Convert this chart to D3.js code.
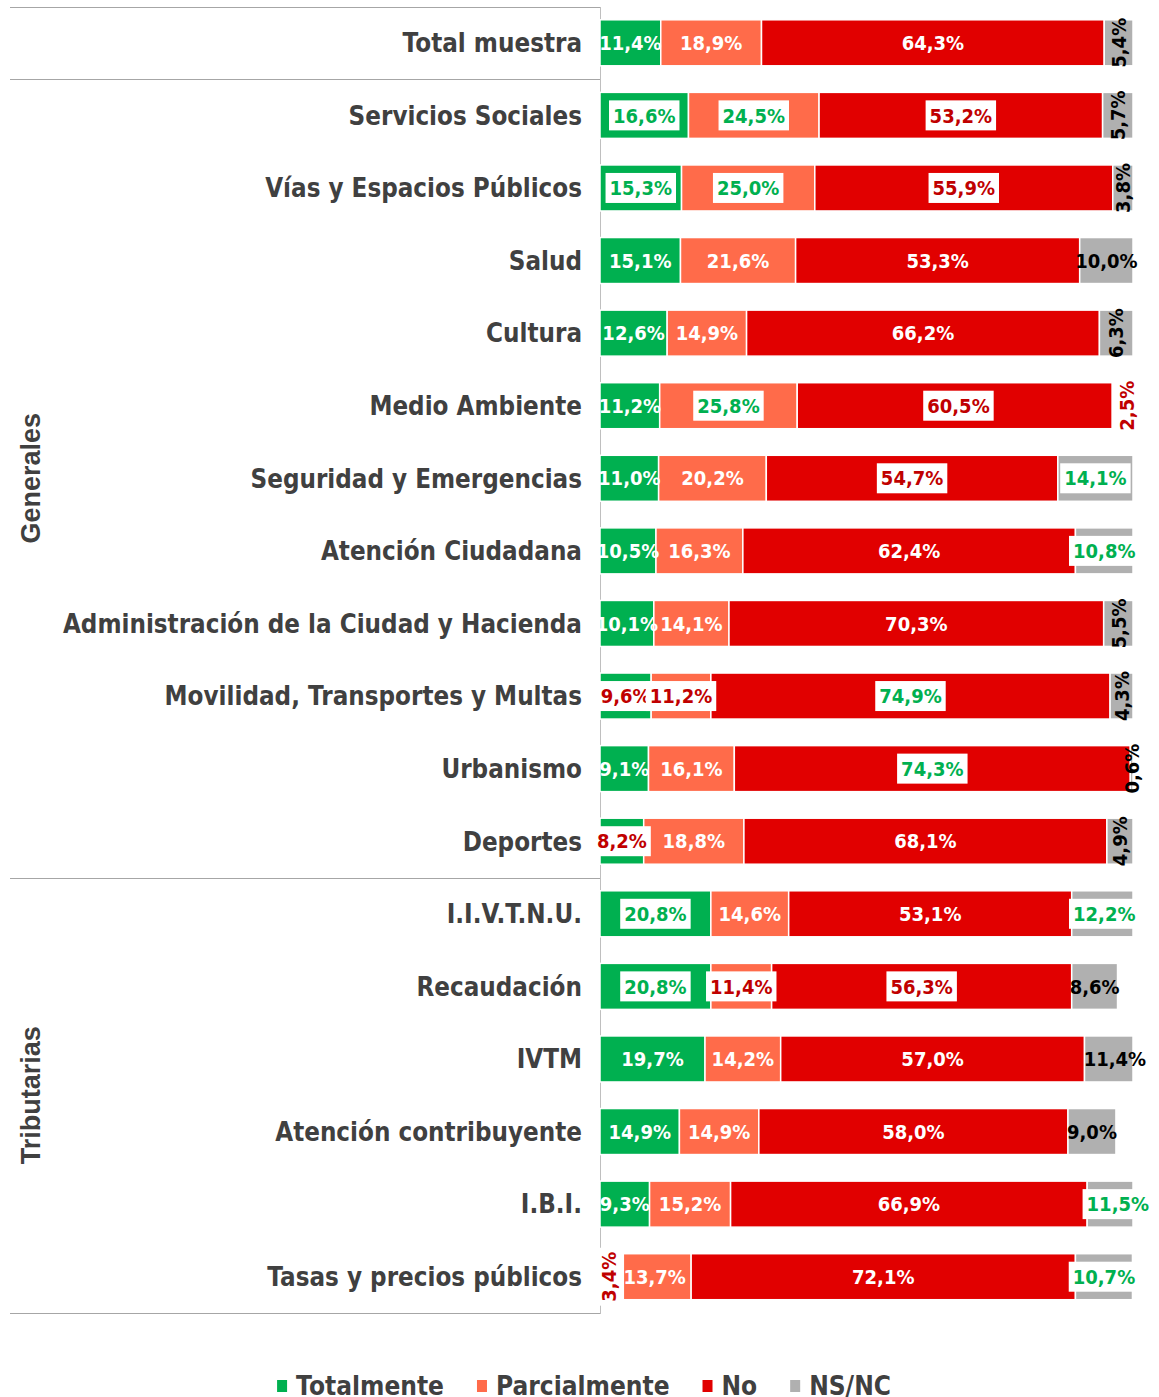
<!DOCTYPE html>
<html>
<head>
<meta charset="utf-8">
<script src="https://cdn.jsdelivr.net/npm/d3@7"></script>
<style>
  body { margin: 0; background: #fff; }
  svg { display: block; }
</style>
</head>
<body>
<div id="chart"></div>
<script>
// Categories (top to bottom)
const categories = [
  'Total muestra',
  'Servicios Sociales',
  'Vías y Espacios Públicos',
  'Salud',
  'Cultura',
  'Medio Ambiente',
  'Seguridad y Emergencias',
  'Atención Ciudadana',
  'Administración de la Ciudad y Hacienda',
  'Movilidad, Transportes y Multas',
  'Urbanismo',
  'Deportes',
  'I.I.V.T.N.U.',
  'Recaudación',
  'IVTM',
  'Atención contribuyente',
  'I.B.I.',
  'Tasas y precios públicos'
];

// Groups: name, first and last category
const groupNames = ['Generales', 'Tributarias'];
const groupFirst = ['Servicios Sociales', 'I.I.V.T.N.U.'];
const groupLast = ['Deportes', 'Tasas y precios públicos'];

const seriesNames = ['Totalmente', 'Parcialmente', 'No', 'NS/NC'];

// Series values (%)
const totalmente   = [11.4, 16.6, 15.3, 15.1, 12.6, 11.2, 11.0, 10.5, 10.1, 9.6, 9.1, 8.2, 20.8, 20.8, 19.7, 14.9, 9.3, 3.4];
const parcialmente = [18.9, 24.5, 25.0, 21.6, 14.9, 25.8, 20.2, 16.3, 14.1, 11.2, 16.1, 18.8, 14.6, 11.4, 14.2, 14.9, 15.2, 13.7];
const no           = [64.3, 53.2, 55.9, 53.3, 66.2, 60.5, 54.7, 62.4, 70.3, 74.9, 74.3, 68.1, 53.1, 56.3, 57.0, 58.0, 66.9, 72.1];
const nsnc         = [5.4, 5.7, 3.8, 10.0, 6.3, 2.5, 14.1, 10.8, 5.5, 4.3, 0.6, 4.9, 12.2, 8.6, 11.4, 9.0, 11.5, 10.7];

// Label look per row, one code per series:
// w = white text, k = black text, g = green text on white box, r = red text on white box
// kv / rv = same but rotated
const labelStyle = [
  ['w', 'w', 'w', 'kv'],
  ['g', 'g', 'r', 'kv'],
  ['g', 'g', 'r', 'kv'],
  ['w', 'w', 'w', 'k'],
  ['w', 'w', 'w', 'kv'],
  ['w', 'g', 'r', 'rv'],
  ['w', 'w', 'r', 'g'],
  ['w', 'w', 'w', 'g'],
  ['w', 'w', 'w', 'kv'],
  ['r', 'r', 'g', 'kv'],
  ['w', 'w', 'g', 'kv'],
  ['r', 'w', 'w', 'kv'],
  ['g', 'w', 'w', 'g'],
  ['g', 'r', 'r', 'k'],
  ['w', 'w', 'w', 'k'],
  ['w', 'w', 'w', 'k'],
  ['w', 'w', 'w', 'g'],
  ['rv', 'w', 'w', 'g']
];

const width = 1159, height = 1397;
const plotLeft = 600, plotRight = 1133;
const fontMain = "'DejaVu Sans', Verdana, sans-serif";
const fontGroup = "'Liberation Sans', Arial, sans-serif";
const textGray = '#404040';

const svg = d3.select('#chart')
  .append('svg')
  .attr('width', width)
  .attr('height', height);

const x = d3.scaleLinear().domain([0, 100]).range([plotLeft, plotRight]);
const y = d3.scaleBand()
  .domain(categories)
  .range([6.5, 1313])
  .paddingInner(0.366)
  .paddingOuter(0.183);

const color = d3.scaleOrdinal()
  .domain(seriesNames)
  .range(['#00B050', '#FF6B4A', '#E10000', '#B0B0B0']);

const textColor = { w: '#ffffff', k: '#000000', g: '#00B050', r: '#C00000' };

// Rows for the stack
const rows = categories.map((c, i) => ({
  category: c,
  'Totalmente': totalmente[i],
  'Parcialmente': parcialmente[i],
  'No': no[i],
  'NS/NC': nsnc[i]
}));
const stacked = d3.stack().keys(seriesNames)(rows);

const fmt = v => d3.format('.1f')(v).replace('.', ',') + '%';

// squeeze text horizontally to mimic the narrower original font
function squeeze(sel, k) {
  sel.each(function () {
    const w = this.getComputedTextLength();
    d3.select(this).attr('textLength', w * k).attr('lengthAdjust', 'spacingAndGlyphs');
  });
}

// Row boundary helper
const step = y.step();
const gap = step - y.bandwidth();
const rowTop = c => y(c) - gap / 2;
const rowBottom = c => y(c) + y.bandwidth() + gap / 2;

// Separator lines on the label side
const lineYs = [
  rowTop(categories[0]),
  rowTop(groupFirst[0]),
  rowTop(groupFirst[1]),
  rowBottom(categories[categories.length - 1])
];
svg.append('g')
  .selectAll('line')
  .data(lineYs)
  .enter().append('line')
  .attr('x1', 10)
  .attr('x2', plotLeft)
  .attr('y1', d => Math.round(d) + 0.5)
  .attr('y2', d => Math.round(d) + 0.5)
  .attr('stroke', '#A6A6A6')
  .attr('stroke-width', 1);

// Vertical axis line
svg.append('line')
  .attr('x1', plotLeft + 0.5)
  .attr('x2', plotLeft + 0.5)
  .attr('y1', Math.round(lineYs[0]))
  .attr('y2', Math.round(lineYs[3]) + 1)
  .attr('stroke', '#BFBFBF')
  .attr('stroke-width', 1);

// Bars
const bars = svg.append('g');
bars.selectAll('g')
  .data(stacked)
  .enter().append('g')
  .attr('fill', d => color(d.key))
  .selectAll('rect')
  .data(d => d)
  .enter().append('rect')
  .attr('x', d => x(d[0]))
  .attr('y', d => y(d.data.category))
  .attr('width', d => Math.max(0, x(Math.min(d[1], 100)) - x(d[0])))
  .attr('height', y.bandwidth())
  .attr('stroke', '#ffffff')
  .attr('stroke-width', 1.5);

// Data labels
const labels = svg.append('g');
stacked.forEach((series, si) => {
  series.forEach((d, ri) => {
    const code = labelStyle[ri][si];
    const kind = code[0];
    const vertical = code.length > 1;
    const boxed = kind === 'g' || kind === 'r';
    const cx = x((d[0] + d[1]) / 2);
    const cy = y(d.data.category) + y.bandwidth() / 2;

    const g = labels.append('g')
      .attr('transform', `translate(${cx},${cy})` + (vertical ? ' rotate(-90)' : ''));

    const t = g.append('text')
      .attr('text-anchor', 'middle')
      .attr('dy', '0.36em')
      .style('font-family', fontMain)
      .style('font-size', '20px')
      .style('font-weight', 'bold')
      .style('fill', textColor[kind])
      .text(fmt(series.key === 'NS/NC' ? nsnc[ri] : d[1] - d[0]));
    squeeze(t, 0.9);

    if (boxed) {
      const w = +t.attr('textLength');
      g.insert('rect', 'text')
        .attr('x', -w / 2 - 4)
        .attr('y', -15)
        .attr('width', w + 8)
        .attr('height', 30)
        .attr('fill', '#ffffff');
    }
  });
});

// Category labels
const catLabels = svg.append('g')
  .selectAll('text')
  .data(categories)
  .enter().append('text')
  .attr('x', 582)
  .attr('y', d => y(d) + y.bandwidth() / 2)
  .attr('dy', '0.36em')
  .attr('text-anchor', 'end')
  .style('font-family', fontMain)
  .style('font-size', '26px')
  .style('font-weight', 'bold')
  .style('fill', textGray)
  .text(d => d);
squeeze(catLabels, 0.89);

// Group labels (rotated)
groupNames.forEach((name, i) => {
  const cy = (rowTop(groupFirst[i]) + rowBottom(groupLast[i])) / 2;
  svg.append('text')
    .attr('transform', `translate(30,${cy}) rotate(-90)`)
    .attr('text-anchor', 'middle')
    .attr('dy', '0.36em')
    .style('font-family', fontGroup)
    .style('font-size', '27px')
    .style('font-weight', 'bold')
    .style('fill', textGray)
    .text(name);
});

// Legend
const legend = svg.append('g');
const legendBase = 1395;
const items = [];
seriesNames.forEach(name => {
  const it = legend.append('g');
  it.append('rect')
    .attr('x', 0)
    .attr('y', legendBase - 15)
    .attr('width', 10)
    .attr('height', 12)
    .attr('fill', color(name));
  const t = it.append('text')
    .attr('x', 19)
    .attr('y', legendBase)
    .style('font-family', fontMain)
    .style('font-size', '26px')
    .style('font-weight', 'bold')
    .style('fill', textGray)
    .text(name);
  squeeze(t, 0.9);
  items.push({ g: it, w: 19 + (+t.attr('textLength')) });
});
const legendGap = 33;
const legendTotal = d3.sum(items, d => d.w) + legendGap * (items.length - 1);
let lx = 584 - legendTotal / 2;
items.forEach(d => {
  d.g.attr('transform', `translate(${lx},0)`);
  lx += d.w + legendGap;
});
</script>
</body>
</html>
